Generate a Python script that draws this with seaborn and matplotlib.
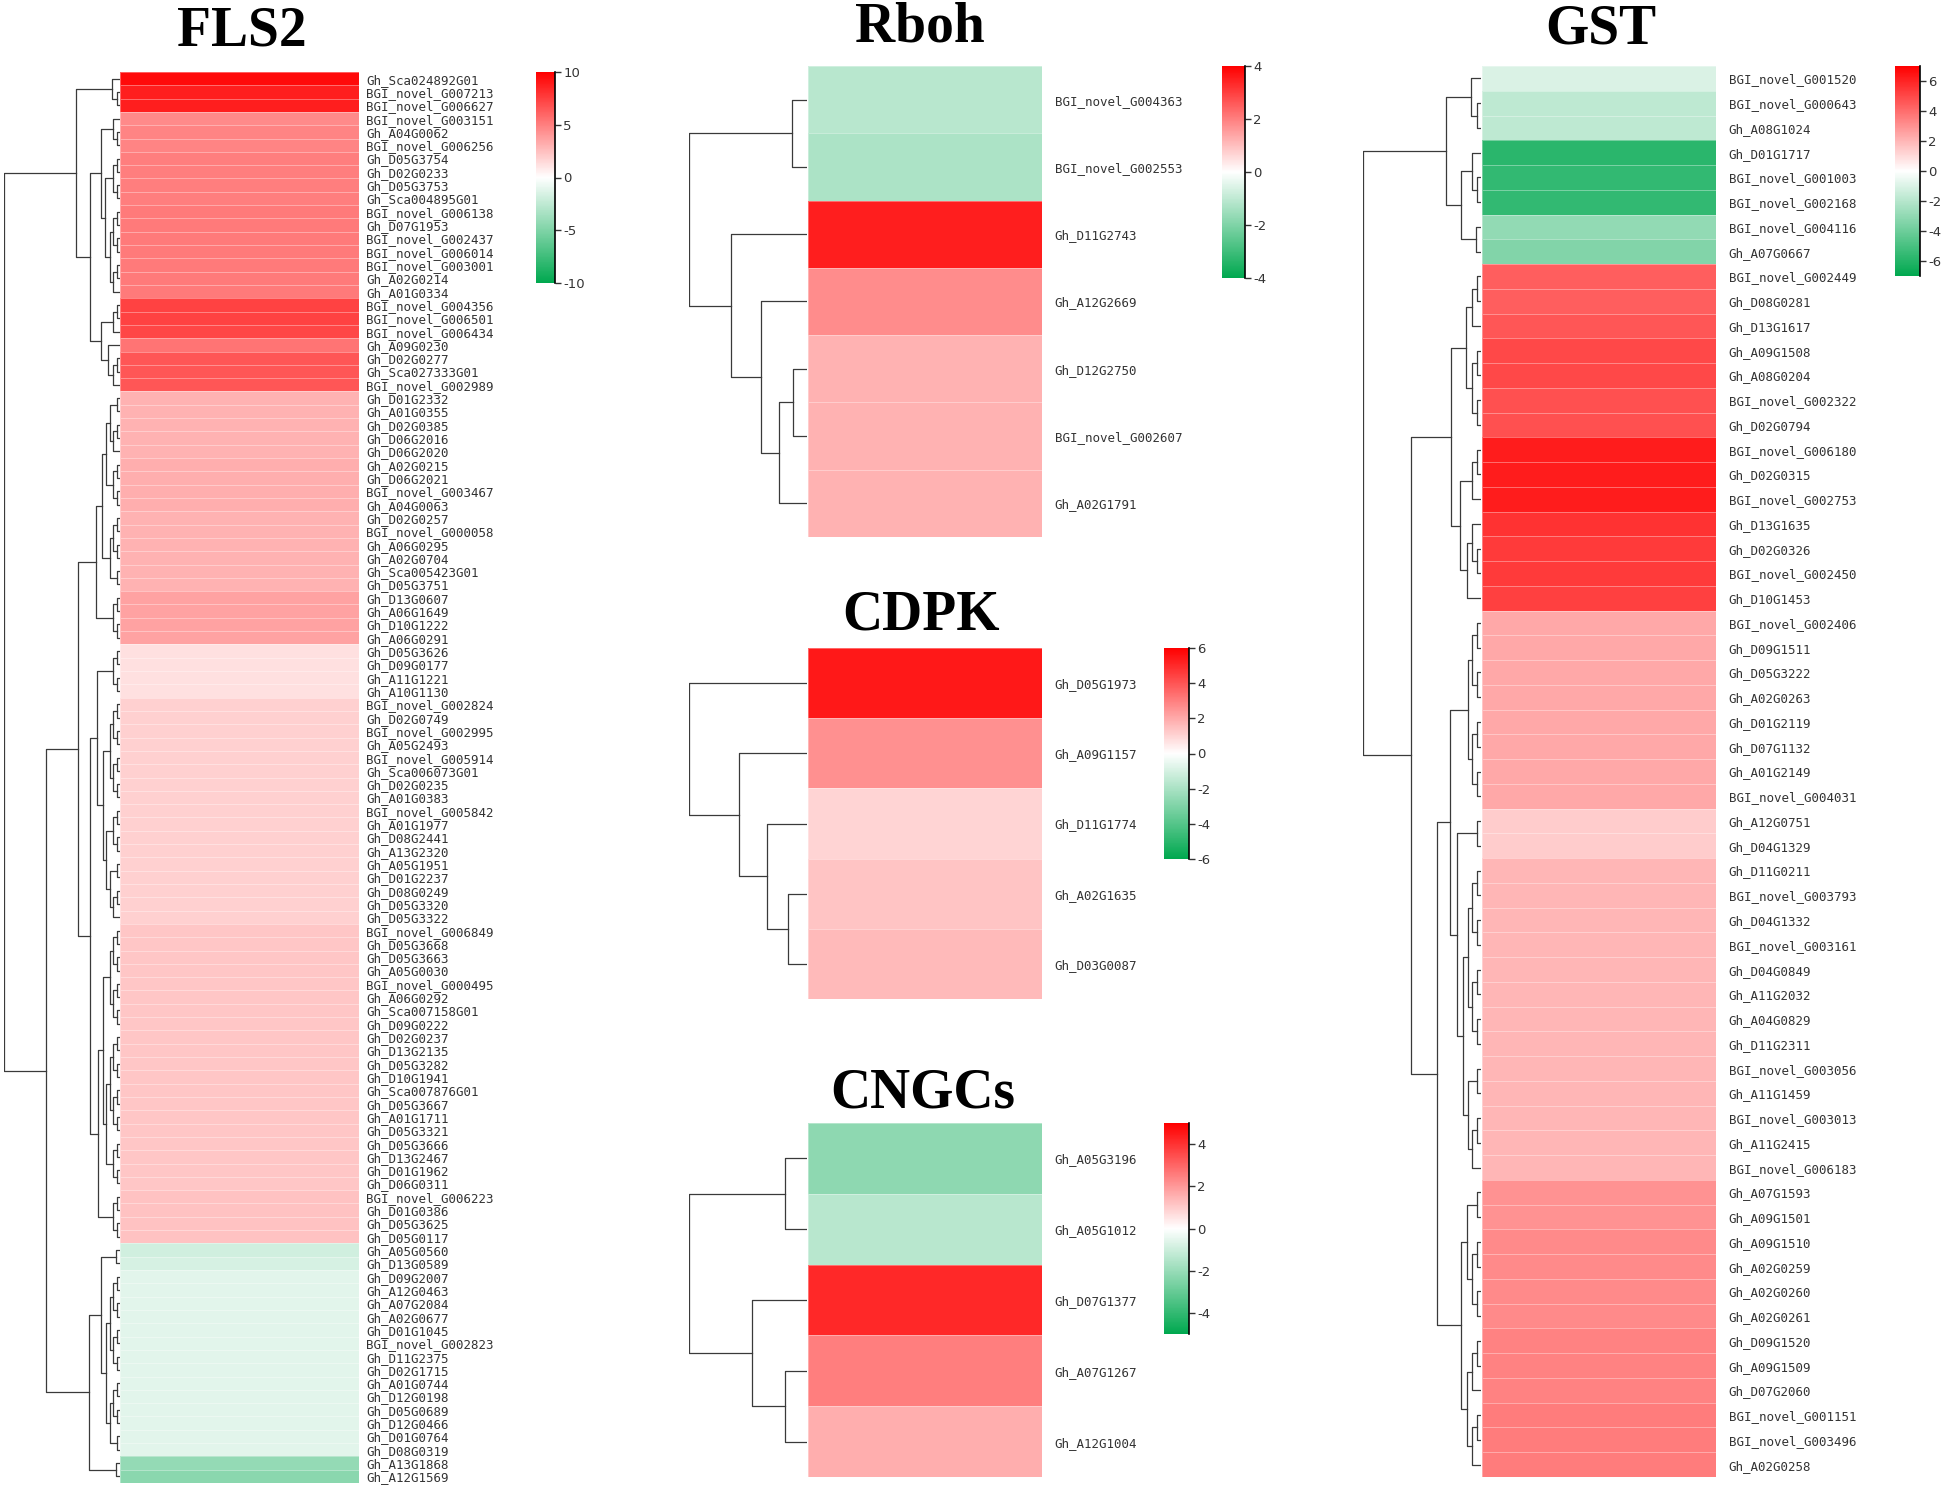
import numpy as np
import pandas as pd
import matplotlib
matplotlib.use("Agg")
import matplotlib.pyplot as plt
import seaborn as sns
from matplotlib.colors import LinearSegmentedColormap

plt.rcParams["axes.unicode_minus"] = False

# ---------------- data ----------------
fls2_genes = [
    "Gh_Sca024892G01", "BGI_novel_G007213", "BGI_novel_G006627", "BGI_novel_G003151",
    "Gh_A04G0062", "BGI_novel_G006256", "Gh_D05G3754", "Gh_D02G0233", "Gh_D05G3753",
    "Gh_Sca004895G01", "BGI_novel_G006138", "Gh_D07G1953", "BGI_novel_G002437",
    "BGI_novel_G006014", "BGI_novel_G003001", "Gh_A02G0214", "Gh_A01G0334",
    "BGI_novel_G004356", "BGI_novel_G006501", "BGI_novel_G006434", "Gh_A09G0230",
    "Gh_D02G0277", "Gh_Sca027333G01", "BGI_novel_G002989", "Gh_D01G2332", "Gh_A01G0355",
    "Gh_D02G0385", "Gh_D06G2016", "Gh_D06G2020", "Gh_A02G0215", "Gh_D06G2021",
    "BGI_novel_G003467", "Gh_A04G0063", "Gh_D02G0257", "BGI_novel_G000058", "Gh_A06G0295",
    "Gh_A02G0704", "Gh_Sca005423G01", "Gh_D05G3751", "Gh_D13G0607", "Gh_A06G1649",
    "Gh_D10G1222", "Gh_A06G0291", "Gh_D05G3626", "Gh_D09G0177", "Gh_A11G1221",
    "Gh_A10G1130", "BGI_novel_G002824", "Gh_D02G0749", "BGI_novel_G002995", "Gh_A05G2493",
    "BGI_novel_G005914", "Gh_Sca006073G01", "Gh_D02G0235", "Gh_A01G0383",
    "BGI_novel_G005842", "Gh_A01G1977", "Gh_D08G2441", "Gh_A13G2320", "Gh_A05G1951",
    "Gh_D01G2237", "Gh_D08G0249", "Gh_D05G3320", "Gh_D05G3322", "BGI_novel_G006849",
    "Gh_D05G3668", "Gh_D05G3663", "Gh_A05G0030", "BGI_novel_G000495", "Gh_A06G0292",
    "Gh_Sca007158G01", "Gh_D09G0222", "Gh_D02G0237", "Gh_D13G2135", "Gh_D05G3282",
    "Gh_D10G1941", "Gh_Sca007876G01", "Gh_D05G3667", "Gh_A01G1711", "Gh_D05G3321",
    "Gh_D05G3666", "Gh_D13G2467", "Gh_D01G1962", "Gh_D06G0311", "BGI_novel_G006223",
    "Gh_D01G0386", "Gh_D05G3625", "Gh_D05G0117", "Gh_A05G0560", "Gh_D13G0589",
    "Gh_D09G2007", "Gh_A12G0463", "Gh_A07G2084", "Gh_A02G0677", "Gh_D01G1045",
    "BGI_novel_G002823", "Gh_D11G2375", "Gh_D02G1715", "Gh_A01G0744", "Gh_D12G0198",
    "Gh_D05G0689", "Gh_D12G0466", "Gh_D01G0764", "Gh_D08G0319", "Gh_A13G1868",
    "Gh_A12G1569",
]
fls2_values = [
    9.6, 8.8, 8.8, 4.6, 4.8, 4.8, 5.0, 5.0, 5.0, 5.0, 5.2, 5.2, 5.2, 5.2, 5.2, 5.2, 5.2,
    7.4, 7.4, 7.2, 5.4, 6.6, 6.6, 6.6,
    3.0, 3.0, 3.0, 3.0, 3.0, 3.2, 3.2, 3.2, 3.2, 3.0, 3.0, 3.0, 3.0, 3.0, 3.0,
    3.6, 3.6, 3.6, 3.6,
    1.2, 1.2, 1.2, 1.2,
    1.8, 1.8, 1.8, 1.8, 1.8, 1.8, 1.8, 1.8, 1.8, 1.8, 1.8, 1.8, 1.8, 1.8, 1.8, 1.8, 1.8,
    2.2, 2.2, 2.2, 2.2, 2.2, 2.2, 2.2, 2.2, 2.2, 2.2, 2.2, 2.2, 2.2, 2.2, 2.2, 2.2,
    2.2, 2.2, 2.2, 2.2, 2.4, 2.4, 2.4, 2.4,
    -1.8, -1.6,
    -1.1, -1.1, -1.1, -1.1, -1.1, -1.1, -1.1, -1.1, -1.1, -1.1, -1.1, -1.1, -1.1, -1.1,
    -4.2, -4.6,
]

rboh_genes = ["BGI_novel_G004363", "BGI_novel_G002553", "Gh_D11G2743", "Gh_A12G2669",
              "Gh_D12G2750", "BGI_novel_G002607", "Gh_A02G1791"]
rboh_values = [-1.1, -1.3, 3.5, 1.8, 1.2, 1.2, 1.2]

cdpk_genes = ["Gh_D05G1973", "Gh_A09G1157", "Gh_D11G1774", "Gh_A02G1635", "Gh_D03G0087"]
cdpk_values = [5.4, 2.6, 1.0, 1.4, 1.6]

cngc_genes = ["Gh_A05G3196", "Gh_A05G1012", "Gh_D07G1377", "Gh_A07G1267", "Gh_A12G1004"]
cngc_values = [-2.2, -1.4, 4.2, 2.5, 1.6]

gst_genes = [
    "BGI_novel_G001520", "BGI_novel_G000643", "Gh_A08G1024", "Gh_D01G1717",
    "BGI_novel_G001003", "BGI_novel_G002168", "BGI_novel_G004116", "Gh_A07G0667",
    "BGI_novel_G002449", "Gh_D08G0281", "Gh_D13G1617", "Gh_A09G1508", "Gh_A08G0204",
    "BGI_novel_G002322", "Gh_D02G0794", "BGI_novel_G006180", "Gh_D02G0315",
    "BGI_novel_G002753", "Gh_D13G1635", "Gh_D02G0326", "BGI_novel_G002450", "Gh_D10G1453",
    "BGI_novel_G002406", "Gh_D09G1511", "Gh_D05G3222", "Gh_A02G0263", "Gh_D01G2119",
    "Gh_D07G1132", "Gh_A01G2149", "BGI_novel_G004031", "Gh_A12G0751", "Gh_D04G1329",
    "Gh_D11G0211", "BGI_novel_G003793", "Gh_D04G1332", "BGI_novel_G003161", "Gh_D04G0849",
    "Gh_A11G2032", "Gh_A04G0829", "Gh_D11G2311", "BGI_novel_G003056", "Gh_A11G1459",
    "BGI_novel_G003013", "Gh_A11G2415", "BGI_novel_G006183", "Gh_A07G1593", "Gh_A09G1501",
    "Gh_A09G1510", "Gh_A02G0259", "Gh_A02G0260", "Gh_A02G0261", "Gh_D09G1520",
    "Gh_A09G1509", "Gh_D07G2060", "BGI_novel_G001151", "BGI_novel_G003496", "Gh_A02G0258",
]
gst_values = [
    -1.0, -1.8, -1.8, -5.8, -5.6, -5.6, -3.0, -3.4,
    4.4, 4.4, 4.6, 5.0, 5.0, 4.8, 4.8,
    6.2, 6.2, 6.2, 5.6, 5.4, 5.4, 5.2,
    2.4, 2.4, 2.4, 2.4, 2.4, 2.4, 2.4, 2.4,
    1.4, 1.4,
    2.0, 2.0, 2.0, 2.0, 2.0, 2.0, 2.0, 2.0, 2.0, 2.0, 2.0, 2.0, 2.0,
    3.0, 3.0, 3.2, 3.2, 3.2, 3.2, 3.4, 3.4, 3.4, 3.6, 3.6, 3.6,
]

# ---------------- helpers ----------------
W, H = 1946, 1488
fig = plt.figure(figsize=(W / 100, H / 100), dpi=100)
cmap = LinearSegmentedColormap.from_list("gwr", ["#00a84f", "#ffffff", "#ff0000"])


def box(x0, y0, x1, y1):
    return [x0 / W, 1 - y1 / H, (x1 - x0) / W, (y1 - y0) / H]


def adjacent_linkage(values, step=1.0, scale=0.4):
    # order preserving agglomeration (neighbours only), ward-like distance
    cl = [dict(pos=i + 0.5, h=0.0, m=v, n=1) for i, v in enumerate(values)]
    links = []
    while len(cl) > 1:
        best = None
        for j in range(len(cl) - 1):
            a, b = cl[j], cl[j + 1]
            d = np.sqrt(2 * a["n"] * b["n"] / (a["n"] + b["n"])) * abs(a["m"] - b["m"])
            key = (round(d, 6), a["n"] + b["n"])
            if best is None or key < best[0]:
                best = (key, j, d)
        _, j, d = best
        a, b = cl[j], cl[j + 1]
        h = max(a["h"], b["h"]) + step + scale * d
        links.append((a["pos"], a["h"], b["pos"], b["h"], h))
        n = a["n"] + b["n"]
        cl[j:j + 2] = [dict(pos=(a["pos"] + b["pos"]) / 2, h=h,
                            m=(a["m"] * a["n"] + b["m"] * b["n"]) / n, n=n)]
    return links


def panel(genes, values, lim, ticks, dend_x, heat_x, y, cbar_box, title, title_xy, pad):
    n = len(values)
    ax = fig.add_axes(box(heat_x[0], y[0], heat_x[1], y[1]))
    cax = fig.add_axes(box(*cbar_box))
    df = pd.DataFrame({"value": values}, index=genes)
    sns.heatmap(df, ax=ax, cmap=cmap, vmin=-lim, vmax=lim, cbar_ax=cax,
                cbar_kws={"ticks": ticks}, xticklabels=False, yticklabels=genes,
                linewidths=0.4, linecolor=(1, 1, 1, 0.35))
    ax.yaxis.tick_right()
    ax.set_yticklabels(genes, rotation=0, fontsize=9, family="DejaVu Sans Mono",
                       color="#333333")
    ax.tick_params(axis="y", length=0, pad=pad)
    ax.set_ylabel("")

    cbar = ax.collections[0].colorbar
    cbar.outline.set_visible(False)
    cax.tick_params(length=4, width=1, labelsize=9.5, colors="#333333", pad=2)
    cax.plot([1, 1], [0, 1], transform=cax.transAxes, color="black", lw=1.2,
             clip_on=False)

    # dendrogram
    dax = fig.add_axes(box(dend_x[0], y[0], dend_x[1], y[1]))
    links = adjacent_linkage(values)
    for p1, h1, p2, h2, h in links:
        dax.plot([h1, h, h, h2], [p1, p1, p2, p2], color="#3a3a3a", lw=0.9)
    dax.set_ylim(n, 0)
    dax.set_xlim(links[-1][4] * 1.0, 0)
    dax.axis("off")

    fig.text(title_xy[0] / W, 1 - title_xy[1] / H, title, ha="center", va="baseline",
             fontsize=40, fontweight="bold", family="Liberation Serif")


panel(fls2_genes, fls2_values, 10, [10, 5, 0, -5, -10], (4, 120), (120, 359),
      (72, 1483), (536, 72, 555, 283), "FLS2", (242, 46), 5)
panel(rboh_genes, rboh_values, 4, [4, 2, 0, -2, -4], (689, 807), (808, 1042),
      (66, 537), (1222, 66, 1245, 278), "Rboh", (920, 41), 9)
panel(cdpk_genes, cdpk_values, 6, [6, 4, 2, 0, -2, -4, -6], (689, 807), (808, 1042),
      (648, 999), (1164, 648, 1189, 859), "CDPK", (921, 629), 9)
panel(cngc_genes, cngc_values, 5, [4, 2, 0, -2, -4], (689, 807), (808, 1042),
      (1123, 1477), (1164, 1123, 1189, 1334), "CNGCs", (923, 1107), 9)
panel(gst_genes, gst_values, 7, [6, 4, 2, 0, -2, -4, -6], (1363, 1481), (1482, 1716),
      (66, 1477), (1895, 66, 1920, 276), "GST", (1601, 43), 9)

fig.savefig("out.png", dpi=100, facecolor="white")
